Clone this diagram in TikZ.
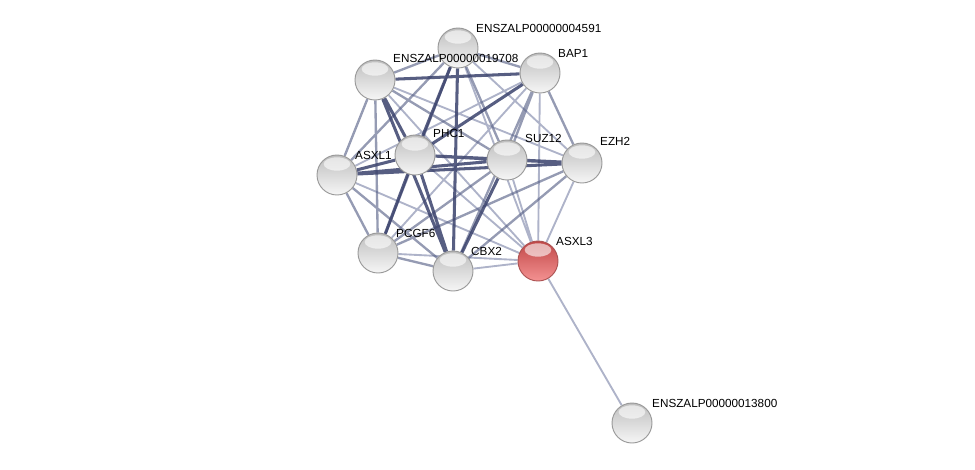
\documentclass[tikz,border=0pt]{standalone}
\usepackage{fontspec}
\setmainfont{Liberation Sans}
\usetikzlibrary{backgrounds}

\definecolor{edgedark}{RGB}{58,66,108}
\definecolor{edgemid}{RGB}{84,93,132}
\definecolor{edgelight}{RGB}{140,147,178}
\definecolor{balltop}{RGB}{190,190,190}
\definecolor{ballbottom}{RGB}{246,246,246}
\definecolor{redtop}{RGB}{192,70,70}
\definecolor{redbottom}{RGB}{244,146,146}

\begin{document}
\begin{tikzpicture}[
    x=0.03cm, y=-0.03cm,
    protein/.style={circle, top color=balltop, bottom color=ballbottom, draw=gray!80, line width=0.8pt, minimum size=1.2cm, inner sep=0pt,
        path picture={\fill[white, opacity=0.6] ([yshift=-0.27cm]path picture bounding box.north) ellipse (0.4cm and 0.2cm);}},
    query/.style={protein, top color=redtop, bottom color=redbottom, draw=red!35!gray},
    protlabel/.style={anchor=west, font=\fontsize{10}{12}\selectfont, inner sep=0pt},
    strong/.style={edgedark, line width=2.6pt, opacity=0.85},
    medium/.style={edgemid, line width=2pt, opacity=0.62},
    weak/.style={edgelight, line width=1.6pt, opacity=0.7}
]
\useasboundingbox (0,0) rectangle (975,469);

% Proteins
\node[protein] (e4591) at (458,48) {};
\node[protein] (e19708) at (375,80) {};
\node[protein] (bap1) at (540,73) {};
\node[protein] (phc1) at (415,155) {};
\node[protein] (suz12) at (507,160) {};
\node[protein] (ezh2) at (582,163) {};
\node[protein] (asxl1) at (337,175) {};
\node[protein] (pcgf6) at (378,253) {};
\node[protein] (cbx2) at (453,271) {};
\node[query] (asxl3) at (538,261) {};
\node[protein] (e13800) at (632,423) {};

% Labels
\node[protlabel] (l4591) at ([shift={(18,-20)}]e4591.center) {ENSZALP00000004591};
\node[protlabel] (l19708) at ([shift={(18,-22)}]e19708.center) {ENSZALP00000019708};
\node[protlabel] (lbap1) at ([shift={(18,-20)}]bap1.center) {BAP1};
\node[protlabel] (lphc1) at ([shift={(18,-22)}]phc1.center) {PHC1};
\node[protlabel] (lsuz12) at ([shift={(18,-22)}]suz12.center) {SUZ12};
\node[protlabel] (lezh2) at ([shift={(18,-22)}]ezh2.center) {EZH2};
\node[protlabel] (lasxl1) at ([shift={(18,-20)}]asxl1.center) {ASXL1};
\node[protlabel] (lpcgf6) at ([shift={(18,-20)}]pcgf6.center) {PCGF6};
\node[protlabel] (lcbx2) at ([shift={(18,-20)}]cbx2.center) {CBX2};
\node[protlabel] (lasxl3) at ([shift={(18,-20)}]asxl3.center) {ASXL3};
\node[protlabel] (l13800) at ([shift={(20,-20)}]e13800.center) {ENSZALP00000013800};

% Interactions
\begin{scope}[on background layer]
    \draw[weak] (asxl3) -- (e4591) (asxl3) -- (e19708) (asxl3) -- (bap1)
        (asxl3) -- (phc1) (asxl3) -- (suz12) (asxl3) -- (ezh2)
        (asxl3) -- (asxl1) (asxl3) -- (pcgf6) (asxl3) -- (cbx2)
        (asxl3) -- (e13800) (e4591) -- (ezh2) (bap1) -- (asxl1)
        (e19708) -- (ezh2) (bap1) -- (pcgf6);
    \draw[medium] (e4591) -- (e19708) (e4591) -- (bap1) (e4591) -- (suz12)
        (e4591) -- (asxl1) (e4591) -- (pcgf6) (e19708) -- (asxl1)
        (e19708) -- (pcgf6) (bap1) -- (suz12) (bap1) -- (ezh2)
        (bap1) -- (cbx2) (suz12) -- (pcgf6) (asxl1) -- (pcgf6)
        (asxl1) -- (cbx2) (pcgf6) -- (cbx2) (ezh2) -- (cbx2)
        (ezh2) -- (pcgf6) (e19708) -- (suz12);
    \draw[strong] (e4591) -- (phc1) (e4591) -- (cbx2) (e19708) -- (phc1)
        (e19708) -- (cbx2) (e19708) -- (bap1) (phc1) -- (cbx2)
        (phc1) -- (asxl1) (phc1) -- (suz12) (asxl1) -- (suz12)
        (asxl1) -- (ezh2) (suz12) -- (ezh2) (phc1) -- (ezh2)
        (bap1) -- (phc1) (suz12) -- (cbx2) (phc1) -- (pcgf6);
\end{scope}

\end{tikzpicture}
\end{document}
